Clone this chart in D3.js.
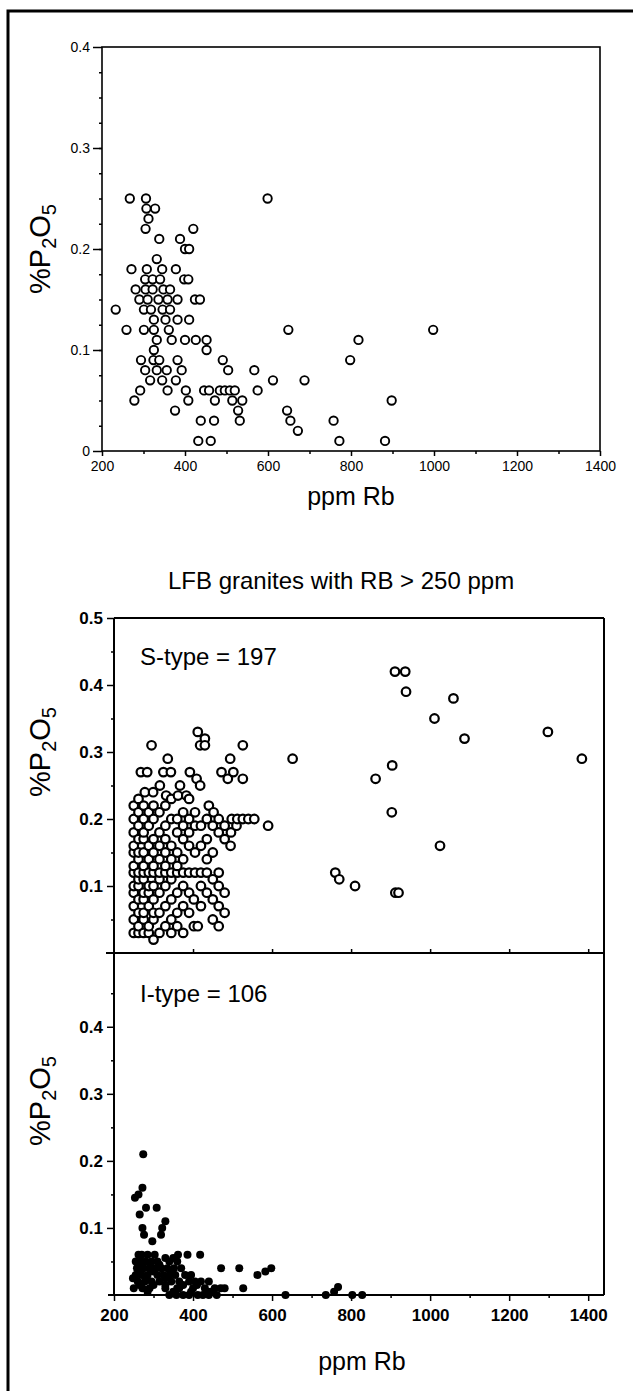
<!DOCTYPE html>
<html>
<head>
<meta charset="utf-8">
<script src="https://cdn.jsdelivr.net/npm/d3@7"></script>
<style>
body { margin: 0; background: #fff; }
svg { display: block; font-family: "Liberation Sans", Arial, sans-serif; }
</style>
</head>
<body>
<svg id="chart" width="633" height="1391"></svg>
<script>
// --------------------------
// DATA  [ppm Rb, %P2O5]
// --------------------------
const allGranites = [
    [267,0.25],[306,0.25],[599,0.25],[307,0.24],[328,0.24],[312,0.23],
    [305,0.22],[420,0.22],[338,0.21],[388,0.21],[400,0.20],[410,0.20],[332,0.19],
    [271,0.18],[308,0.18],[345,0.18],[378,0.18],
    [304,0.17],[322,0.17],[340,0.17],[398,0.17],[408,0.17],
    [281,0.16],[305,0.16],[322,0.16],[348,0.16],[364,0.16],
    [290,0.15],[310,0.15],[336,0.15],[358,0.15],[382,0.15],[424,0.15],[436,0.15],
    [233,0.14],[301,0.14],[318,0.14],[346,0.14],[364,0.14],
    [325,0.13],[353,0.13],[382,0.13],[410,0.13],
    [259,0.12],[301,0.12],[325,0.12],[361,0.12],[649,0.12],[998,0.12],
    [332,0.11],[368,0.11],[400,0.11],[426,0.11],[452,0.11],[818,0.11],
    [325,0.10],[452,0.10],
    [294,0.09],[324,0.09],[338,0.09],[382,0.09],[491,0.09],[798,0.09],
    [304,0.08],[332,0.08],[356,0.08],[392,0.08],[504,0.08],[567,0.08],
    [316,0.07],[345,0.07],[378,0.07],[612,0.07],[688,0.07],
    [292,0.06],[358,0.06],[402,0.06],[446,0.06],[458,0.06],[484,0.06],[496,0.06],[508,0.06],[520,0.06],[575,0.06],
    [278,0.05],[408,0.05],[472,0.05],[514,0.05],[538,0.05],[898,0.05],
    [376,0.04],[528,0.04],[646,0.04],
    [438,0.03],[470,0.03],[532,0.03],[654,0.03],[758,0.03],
    [672,0.02],
    [432,0.01],[462,0.01],[772,0.01],[882,0.01]
];

const sType = [
    [250,0.03],[250,0.05],[250,0.07],[250,0.09],[250,0.10],[250,0.12],[250,0.13],[250,0.15],[250,0.16],[250,0.18],[250,0.20],[250,0.22],
    [262,0.03],[262,0.04],[262,0.06],[262,0.08],[262,0.10],[262,0.11],[262,0.12],[262,0.14],[262,0.15],[262,0.17],[262,0.19],[262,0.21],[262,0.23],[268,0.27],
    [275,0.03],[275,0.05],[275,0.06],[275,0.08],[275,0.09],[275,0.11],[275,0.12],[275,0.13],[275,0.15],[275,0.17],[275,0.18],[275,0.20],[275,0.22],[278,0.24],[284,0.27],
    [288,0.03],[288,0.04],[288,0.07],[288,0.09],[288,0.10],[288,0.12],[288,0.14],[288,0.16],[288,0.19],[288,0.21],[299,0.24],[295,0.31],
    [300,0.02],[300,0.05],[300,0.06],[300,0.08],[300,0.10],[300,0.12],[300,0.13],[300,0.15],[300,0.17],[300,0.20],[300,0.22],[316,0.25],
    [315,0.03],[315,0.06],[315,0.09],[315,0.11],[315,0.12],[315,0.14],[315,0.16],[315,0.18],[315,0.21],[332,0.235],[325,0.27],
    [330,0.04],[330,0.07],[330,0.10],[330,0.12],[330,0.13],[330,0.15],[330,0.17],[330,0.19],[330,0.22],[336,0.29],[344,0.27],
    [345,0.03],[345,0.05],[345,0.08],[345,0.11],[345,0.12],[345,0.14],[345,0.16],[345,0.20],[345,0.23],[362,0.235],
    [360,0.04],[360,0.06],[360,0.09],[360,0.12],[360,0.13],[360,0.15],[360,0.18],[360,0.20],[367,0.25],
    [375,0.03],[375,0.07],[375,0.10],[375,0.12],[375,0.14],[375,0.17],[375,0.19],[375,0.21],[383,0.235],
    [390,0.06],[390,0.09],[390,0.12],[390,0.16],[390,0.18],[390,0.20],[390,0.23],[392,0.27],
    [402,0.04],[402,0.08],[405,0.12],[405,0.15],[405,0.19],[405,0.21],[409,0.26],[412,0.33],
    [412,0.04],[420,0.07],[420,0.10],[420,0.12],[420,0.16],[420,0.19],[418,0.25],[418,0.31],[430,0.32],
    [435,0.09],[435,0.12],[435,0.14],[435,0.17],[435,0.20],[430,0.31],[440,0.22],
    [450,0.05],[450,0.08],[450,0.11],[450,0.15],[450,0.19],[452,0.21],
    [465,0.04],[465,0.07],[465,0.10],[465,0.12],[465,0.18],[465,0.20],[472,0.27],
    [480,0.06],[480,0.09],[480,0.17],[480,0.19],[488,0.26],[494,0.29],
    [495,0.16],[496,0.18],[498,0.20],[502,0.27],
    [510,0.19],[512,0.20],[526,0.26],
    [526,0.20],[526,0.31],[540,0.20],[555,0.20],
    [590,0.19],[652,0.29],[760,0.12],[770,0.11],[810,0.10],[862,0.26],[904,0.28],[903,0.21],
    [911,0.42],[937,0.42],[939,0.39],[912,0.09],[920,0.09],[1011,0.35],[1025,0.16],
    [1059,0.38],[1087,0.32],[1298,0.33],[1384,0.29]
];

const iType = [
    [274,0.21],[253,0.145],[262,0.15],[272,0.16],[265,0.12],[281,0.13],[308,0.13],
    [330,0.11],[322,0.10],[272,0.10],[276,0.09],[319,0.09],[297,0.08],
    [262,0.06],[270,0.06],[285,0.06],[303,0.06],[362,0.06],[386,0.06],[418,0.06],
    [255,0.05],[268,0.05],[280,0.05],[295,0.05],[310,0.05],[340,0.05],[360,0.05],
    [330,0.055],[350,0.055],[268,0.045],[292,0.045],[315,0.045],
    [258,0.04],[275,0.04],[290,0.04],[305,0.04],[320,0.04],[335,0.04],[352,0.04],[370,0.04],[471,0.04],[517,0.04],
    [262,0.035],[300,0.035],[345,0.035],
    [255,0.03],[270,0.03],[285,0.03],[310,0.03],[325,0.03],[340,0.03],[355,0.03],[380,0.03],[395,0.03],
    [598,0.04],[583,0.035],[563,0.03],
    [248,0.025],[282,0.025],[330,0.025],
    [260,0.02],[278,0.02],[295,0.02],[315,0.02],[345,0.02],[365,0.02],[390,0.02],[405,0.02],[420,0.02],[440,0.02],
    [265,0.015],[300,0.015],[330,0.015],[375,0.015],[410,0.015],
    [250,0.01],[272,0.01],[290,0.01],[330,0.01],[360,0.01],[365,0.01],[400,0.01],[430,0.01],[455,0.01],[470,0.01],[480,0.01],[527,0.01],
    [285,0.005],[350,0.005],[395,0.005],[435,0.005],[445,0.005],
    [340,0],[358,0],[375,0],[390,0],[412,0],[425,0],[440,0],[460,0],[634,0],[736,0],[757,0.005],[767,0.012],[803,0],[828,0]
];

const rbTicks = [200, 400, 600, 800, 1000, 1200, 1400];
const topYTicks = [0, 0.1, 0.2, 0.3, 0.4];
const sYTicks = [0.1, 0.2, 0.3, 0.4, 0.5];
const iYTicks = [0.1, 0.2, 0.3, 0.4];

const svg = d3.select("#chart");

// outer frame (left + top)
svg.append("path")
    .attr("d", "M8,1391V11H633")
    .attr("fill", "none")
    .attr("stroke", "#000")
    .attr("stroke-width", 3);

function styleAxis(g, size, weight) {
    g.selectAll("text")
        .attr("font-size", size)
        .attr("font-weight", weight)
        .attr("font-family", "Liberation Sans, Arial, sans-serif")
        .attr("fill", "#000");
    g.selectAll("line").attr("stroke", "#000").attr("stroke-width", 1.5);
    g.select(".domain").remove();
}

function yLabel(x, y) {
    const t = svg.append("text")
        .attr("transform", `translate(${x},${y}) rotate(-90)`)
        .attr("text-anchor", "middle")
        .attr("font-size", 29);
    t.append("tspan").text("%P");
    t.append("tspan").attr("font-size", 20).attr("dy", 6).text("2");
    t.append("tspan").attr("dy", -6).text("O");
    t.append("tspan").attr("font-size", 20).attr("dy", 6).text("5");
}

const fmt = d => d === 0 ? "0" : d3.format(".1f")(d);

// --------------------------
// TOP PANEL
// --------------------------
function drawTop() {
    const x = d3.scaleLinear().domain([200, 1400]).range([102, 600]);
    const y = d3.scaleLinear().domain([0, 0.4]).range([451, 47]);

    svg.append("rect")
        .attr("x", 102).attr("y", 47)
        .attr("width", 600 - 102).attr("height", 451 - 47)
        .attr("fill", "none").attr("stroke", "#000").attr("stroke-width", 1.6);

    svg.append("g")
        .attr("transform", "translate(102,0)")
        .call(d3.axisLeft(y).tickValues(topYTicks).tickSize(9).tickPadding(3).tickFormat(fmt))
        .call(g => styleAxis(g, 14, "normal"));
    svg.append("g")
        .attr("transform", "translate(102,0)")
        .call(d3.axisLeft(y).tickValues(d3.range(0.025, 0.4, 0.025)).tickSize(3).tickFormat(""))
        .call(g => styleAxis(g, 14, "normal"));

    svg.append("g")
        .attr("transform", "translate(0,451)")
        .call(d3.axisBottom(x).tickValues(rbTicks).tickSize(5).tickPadding(5).tickFormat(d3.format("d")))
        .call(g => styleAxis(g, 14, "normal"));
    svg.append("g")
        .attr("transform", "translate(0,451)")
        .call(d3.axisBottom(x).tickValues(d3.range(300, 1400, 200)).tickSize(3).tickFormat(""))
        .call(g => styleAxis(g, 14, "normal"));

    svg.append("g")
        .selectAll("circle")
        .data(allGranites)
        .enter()
        .append("circle")
        .attr("cx", d => x(d[0]))
        .attr("cy", d => y(d[1]))
        .attr("r", 4.2)
        .attr("fill", "#fff")
        .attr("stroke", "#000")
        .attr("stroke-width", 1.9);

    svg.append("text")
        .attr("x", 351).attr("y", 505)
        .attr("text-anchor", "middle")
        .attr("font-size", 25)
        .text("ppm Rb");

    yLabel(50, 249);
}

// --------------------------
// S-TYPE / I-TYPE PANELS
// --------------------------
function drawLower() {
    const x = d3.scaleLinear().domain([200, 1440]).range([114, 604]);
    const yS = d3.scaleLinear().domain([0, 0.5]).range([953, 618]);
    const yI = d3.scaleLinear().domain([0, 0.51]).range([1295, 953]);

    svg.append("text")
        .attr("x", 168).attr("y", 589)
        .attr("font-size", 24)
        .text("LFB granites with RB > 250 ppm");

    // frame lines
    const frame = svg.append("g").attr("stroke", "#000").attr("stroke-width", 2).attr("fill", "none");
    frame.append("line").attr("x1", 114).attr("x2", 604).attr("y1", 618).attr("y2", 618);
    frame.append("line").attr("x1", 604).attr("x2", 604).attr("y1", 618).attr("y2", 1295);
    frame.append("line").attr("x1", 114).attr("x2", 114).attr("y1", 618).attr("y2", 1295);
    frame.append("line").attr("x1", 106).attr("x2", 604).attr("y1", 953).attr("y2", 953);
    frame.append("line").attr("x1", 108).attr("x2", 604).attr("y1", 1295).attr("y2", 1295);

    svg.append("g")
        .attr("transform", "translate(114,0)")
        .call(d3.axisLeft(yS).tickValues(sYTicks).tickSize(7).tickPadding(4).tickFormat(d3.format(".1f")))
        .call(g => styleAxis(g, 17, "bold"));
    svg.append("g")
        .attr("transform", "translate(114,0)")
        .call(d3.axisLeft(yS).tickValues(d3.range(0.05, 0.5, 0.1)).tickSize(3).tickFormat(""))
        .call(g => styleAxis(g, 17, "bold"));

    svg.append("g")
        .attr("transform", "translate(114,0)")
        .call(d3.axisLeft(yI).tickValues(iYTicks).tickSize(7).tickPadding(4).tickFormat(d3.format(".1f")))
        .call(g => styleAxis(g, 17, "bold"));
    svg.append("g")
        .attr("transform", "translate(114,0)")
        .call(d3.axisLeft(yI).tickValues(d3.range(0.05, 0.5, 0.1)).tickSize(3).tickFormat(""))
        .call(g => styleAxis(g, 17, "bold"));

    // ticks on the shared boundary
    svg.append("g")
        .attr("transform", "translate(0,953)")
        .call(d3.axisTop(x).tickValues(rbTicks.slice(1)).tickSize(4).tickFormat(""))
        .call(g => styleAxis(g, 17, "bold"));

    svg.append("g")
        .attr("transform", "translate(0,1295)")
        .call(d3.axisBottom(x).tickValues(rbTicks).tickSize(6).tickPadding(8).tickFormat(d3.format("d")))
        .call(g => styleAxis(g, 17, "bold"));
    svg.append("g")
        .attr("transform", "translate(0,1295)")
        .call(d3.axisBottom(x).tickValues(d3.range(300, 1440, 200)).tickSize(3).tickFormat(""))
        .call(g => styleAxis(g, 17, "bold"));

    svg.append("g")
        .selectAll("circle")
        .data(sType)
        .enter()
        .append("circle")
        .attr("cx", d => x(d[0]))
        .attr("cy", d => yS(d[1]))
        .attr("r", 4.3)
        .attr("fill", "#fff")
        .attr("stroke", "#000")
        .attr("stroke-width", 2.2);

    svg.append("g")
        .selectAll("circle")
        .data(iType)
        .enter()
        .append("circle")
        .attr("cx", d => x(d[0]))
        .attr("cy", d => yI(d[1]))
        .attr("r", 4)
        .attr("fill", "#000");

    svg.append("text")
        .attr("x", 140).attr("y", 665)
        .attr("font-size", 24)
        .text("S-type = 197");

    svg.append("text")
        .attr("x", 140).attr("y", 1002)
        .attr("font-size", 24)
        .text("I-type = 106");

    svg.append("text")
        .attr("x", 362).attr("y", 1370)
        .attr("text-anchor", "middle")
        .attr("font-size", 25)
        .text("ppm Rb");

    yLabel(50, 752);
    yLabel(50, 1101);
}

drawTop();
drawLower();
</script>
</body>
</html>
